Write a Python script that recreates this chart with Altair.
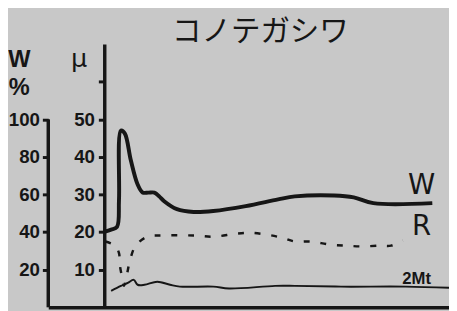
import altair as alt
import pandas as pd

# time axis (arbitrary units); W in %, R and 2Mt in μ
t_w = [0, 0.7, 1.3, 1.5, 1.7, 2.1, 2.7, 3.4, 3.9, 4.5, 5.1, 5.6, 6.1, 7.4, 9.1, 11.1, 14.4, 17.7, 19.4, 23.4, 25.4, 27.4, 33.4]
w_pct = [40.2, 41.3, 42.8, 57, 94, 92.4, 78.3, 65.3, 61.1, 61, 61, 59, 56.4, 52.2, 50.7, 51.2, 53.8, 57.4, 59, 59.5, 58.5, 55.4, 55.4]

t_r = [0.1, 1.1, 1.5, 1.6, 1.9, 2.0, 2.3, 2.6, 3.2, 4.4, 5.9, 9.1, 11.2, 13.4, 14.9, 16.6, 18.1, 19.4, 21.1, 22.9, 24.6, 26.2, 28.1, 29.2, 30.4]
r_mu = [17.5, 16.4, 14.4, 11, 7, 5.7, 8.6, 12.3, 16.4, 18.8, 19.1, 19.1, 18.8, 19.6, 19.8, 19.3, 18.5, 17.5, 17.5, 16.7, 16.4, 16.2, 16.4, 16.4, 17.8]

t_m = [0.7, 1.7, 2.4, 3.0, 3.4, 4.1, 5.4, 6.7, 7.7, 11.1, 12.7, 17.4, 19.4, 24.1, 30.7, 35.1]
m_mu = [4.4, 5.7, 6.5, 7.3, 6.0, 6.0, 6.8, 6.0, 5.5, 5.5, 5.0, 5.7, 5.7, 5.5, 5.5, 5.2]

big_text = ["W", "R"]
big_t = [32.3, 32.3]
big_mu = [32.2, 21.4]

small_text = ["2Mt"]
small_t = [31.8]
small_mu = [7.4]

w_ticks = [20, 40, 60, 80, 100]
mu_ticks = [10, 20, 30, 40, 50, 60]

INK = "#161616"
BG = "#c8c8c8"
FONT = "Liberation Sans"

x_scale = alt.Scale(domain=[-5.7, 35.1], nice=False, zero=False)
x_axis = alt.Axis(domain=True, domainColor=INK, domainWidth=3.5, ticks=False,
                  labels=False, grid=False, title=None)
w_scale = alt.Scale(domain=[0, 140], nice=False)
mu_scale = alt.Scale(domain=[0, 70], nice=False)

df_w = pd.DataFrame({"t": t_w, "W": w_pct})
df_r = pd.DataFrame({"t": t_r, "mu": r_mu})
df_m = pd.DataFrame({"t": t_m, "mu": m_mu})
df_big = pd.DataFrame({"t": big_t, "mu": big_mu, "text": big_text})
df_small = pd.DataFrame({"t": small_t, "mu": small_mu, "text": small_text})
df_wax = pd.DataFrame({"lo": [0], "hi": [100]})

w_line = alt.Chart(df_w).mark_line(color=INK, strokeWidth=4, interpolate="catmull-rom").encode(
    x=alt.X("t:Q", scale=x_scale, axis=x_axis),
    y=alt.Y("W:Q", scale=w_scale, axis=alt.Axis(
        orient="left", values=w_ticks, domain=False, grid=False,
        tickColor=INK, tickWidth=3, tickSize=6, labelPadding=3,
        labelFont=FONT, labelFontSize=19, labelFontWeight="bold", labelColor=INK,
        title=["W", "%"], titleAngle=0, titleX=-30, titleY=4, titleBaseline="top",
        titleAlign="center", titleFont=FONT, titleFontSize=24,
        titleFontWeight="bold", titleColor=INK, titleLineHeight=28)),
)
w_rule = alt.Chart(df_wax).mark_rule(color=INK, strokeWidth=3.5).encode(
    x=alt.value(0),
    y=alt.Y("lo:Q", scale=w_scale),
    y2="hi:Q",
)

r_line = alt.Chart(df_r).mark_line(color=INK, strokeWidth=2.5, strokeDash=[6, 11],
                                   interpolate="catmull-rom").encode(
    x=alt.X("t:Q", scale=x_scale, axis=x_axis),
    y=alt.Y("mu:Q", scale=mu_scale, axis=alt.Axis(
        orient="left", offset=-57, values=mu_ticks, grid=False,
        domainColor=INK, domainWidth=3.5, tickColor=INK, tickWidth=3, tickSize=6,
        labelPadding=4, labelExpr="datum.value <= 50 ? datum.label : ''",
        labelFont=FONT, labelFontSize=19, labelFontWeight="bold", labelColor=INK,
        title="μ", titleAngle=0, titleX=-26, titleY=2, titleBaseline="top",
        titleAlign="center", titleFont="DejaVu Sans", titleFontSize=26,
        titleFontWeight="normal", titleColor=INK)),
)
m_line = alt.Chart(df_m).mark_line(color=INK, strokeWidth=2, interpolate="catmull-rom").encode(
    x=alt.X("t:Q", scale=x_scale),
    y=alt.Y("mu:Q", scale=mu_scale),
)
big_labels = alt.Chart(df_big).mark_text(color=INK, font="DejaVu Sans", fontSize=28,
                                          fontWeight="normal").encode(
    x=alt.X("t:Q", scale=x_scale),
    y=alt.Y("mu:Q", scale=mu_scale),
    text="text:N",
)
small_labels = alt.Chart(df_small).mark_text(color=INK, font=FONT, fontSize=17,
                                              fontWeight="bold").encode(
    x=alt.X("t:Q", scale=x_scale),
    y=alt.Y("mu:Q", scale=mu_scale),
    text="text:N",
)

chart = alt.layer(
    alt.layer(w_line, w_rule),
    alt.layer(r_line, m_line, big_labels, small_labels),
).resolve_scale(y="independent").properties(
    width=408,
    height=268,
    autosize=alt.AutoSizeParams(type="none"),
    padding={"left": 41, "top": 34, "right": 0, "bottom": 1},
    background=BG,
    title=alt.TitleParams("コノテガシワ", font="Noto Sans CJK JP", fontSize=30,
                          fontWeight="normal", color=INK, anchor="middle",
                          offset=-3, dx=12),
).configure_view(stroke=None)

chart.save("out.html", embed_options={"renderer": "svg", "actions": False})
